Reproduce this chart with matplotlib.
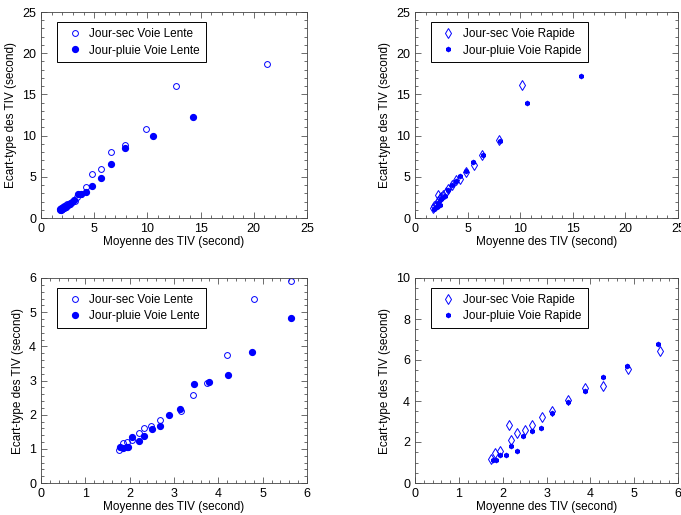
import matplotlib.pyplot as plt
from matplotlib.ticker import MultipleLocator

plt.rcParams['font.family'] = ['Liberation Sans', 'DejaVu Sans']
plt.rcParams['font.size'] = 8.5

# Voie Lente
lente_sec_x = [1.76, 1.85, 1.95, 2.05, 2.2, 2.33, 2.48, 2.68, 3.15, 3.42, 3.75, 4.2, 4.8, 5.63,
               6.6, 7.9, 9.9, 12.7, 21.2]
lente_sec_y = [0.97, 1.17, 1.2, 1.25, 1.45, 1.62, 1.68, 1.84, 2.12, 2.57, 2.93, 3.76, 5.4, 5.92,
               8.0, 8.9, 10.8, 16.0, 18.7]
lente_pluie_x = [1.78, 1.85, 1.93, 1.97, 2.05, 2.2, 2.33, 2.5, 2.68, 2.88, 3.14, 3.46, 3.8, 4.22,
                 4.77, 5.63, 6.6, 7.9, 10.5, 14.3]
lente_pluie_y = [1.05, 1.03, 1.04, 1.04, 1.35, 1.22, 1.37, 1.58, 1.68, 1.98, 2.16, 2.91, 2.96, 3.17,
                 3.83, 4.84, 6.6, 8.5, 10.0, 12.2]

# Voie Rapide
rapide_sec_x = [1.73, 1.83, 1.95, 2.15, 2.18, 2.33, 2.5, 2.67, 2.9, 3.13, 3.5, 3.87, 4.28, 4.85,
                5.58, 6.4, 8.0, 10.2]
rapide_sec_y = [1.17, 1.45, 1.55, 2.82, 2.12, 2.45, 2.57, 2.85, 3.2, 3.52, 4.05, 4.62, 4.75, 5.58,
                6.45, 7.6, 9.5, 16.2]
rapide_pluie_x = [1.77, 1.85, 1.95, 2.07, 2.18, 2.33, 2.47, 2.67, 2.88, 3.13, 3.48, 3.87, 4.28,
                  4.83, 5.55, 6.5, 8.05, 10.6, 15.8]
rapide_pluie_y = [1.12, 1.1, 1.38, 1.35, 1.8, 1.58, 2.3, 2.55, 2.67, 3.4, 3.97, 4.47, 5.15,
                  5.73, 6.77, 7.6, 9.3, 14.0, 17.2]

W, H = 681, 515
fig = plt.figure(figsize=(W / 100, H / 100), dpi=100)


def make_ax(l, r, t, b):
    return fig.add_axes([l / W, 1 - b / H, (r - l) / W, (b - t) / H])


def style(ax, lim_x, lim_y, maj_x, min_x, maj_y, min_y):
    ax.set_xlim(*lim_x)
    ax.set_ylim(*lim_y)
    ax.xaxis.set_major_locator(MultipleLocator(maj_x))
    ax.xaxis.set_minor_locator(MultipleLocator(min_x))
    ax.yaxis.set_major_locator(MultipleLocator(maj_y))
    ax.yaxis.set_minor_locator(MultipleLocator(min_y))
    ax.tick_params(which='both', direction='in', top=True, right=True, labelsize=9)
    ax.tick_params(which='major', length=4, width=0.6, color='#555555')
    ax.tick_params(which='minor', length=2, width=0.6, color='#555555')
    for s in ax.spines.values():
        s.set_linewidth(0.6)
        s.set_color('#444444')
    ax.set_xlabel('Moyenne des TIV (second)', labelpad=1)
    ax.set_ylabel('Ecart-type des TIV (second)', labelpad=4)
    leg = ax.legend(loc='upper left', bbox_to_anchor=(0.06, 0.952), fancybox=False,
                    edgecolor='black', framealpha=1, borderpad=0.5, handletextpad=0.25,
                    handlelength=2.0, labelspacing=0.4, borderaxespad=0, fontsize=8.5)
    leg.get_frame().set_linewidth(0.7)


def lente(ax):
    ax.plot(lente_sec_x, lente_sec_y, 'o', mfc='none', mec='blue', ms=4.2, mew=0.7,
            label='Jour-sec Voie Lente')
    ax.plot(lente_pluie_x, lente_pluie_y, 'o', mfc='blue', mec='blue', ms=4.2,
            label='Jour-pluie Voie Lente')


def rapide(ax):
    ax.plot(rapide_sec_x, rapide_sec_y, 'd', mfc='none', mec='blue', ms=4.6, mew=0.7,
            label='Jour-sec Voie Rapide')
    ax.plot(rapide_pluie_x, rapide_pluie_y, 'h', mfc='blue', mec='blue', ms=3,
            label='Jour-pluie Voie Rapide')


ax1 = make_ax(41, 307, 12, 218)
lente(ax1)
style(ax1, (0, 25), (0, 25), 5, 1, 5, 1)

ax2 = make_ax(415, 678, 12, 218)
rapide(ax2)
style(ax2, (0, 25), (0, 25), 5, 1, 5, 1)

ax3 = make_ax(41, 307, 278, 483)
lente(ax3)
style(ax3, (0, 6), (0, 6), 1, 0.2, 1, 0.2)

ax4 = make_ax(415, 678, 278, 483)
rapide(ax4)
style(ax4, (0, 6), (0, 10), 1, 0.2, 2, 0.5)

fig.savefig('out.png', dpi=100)
